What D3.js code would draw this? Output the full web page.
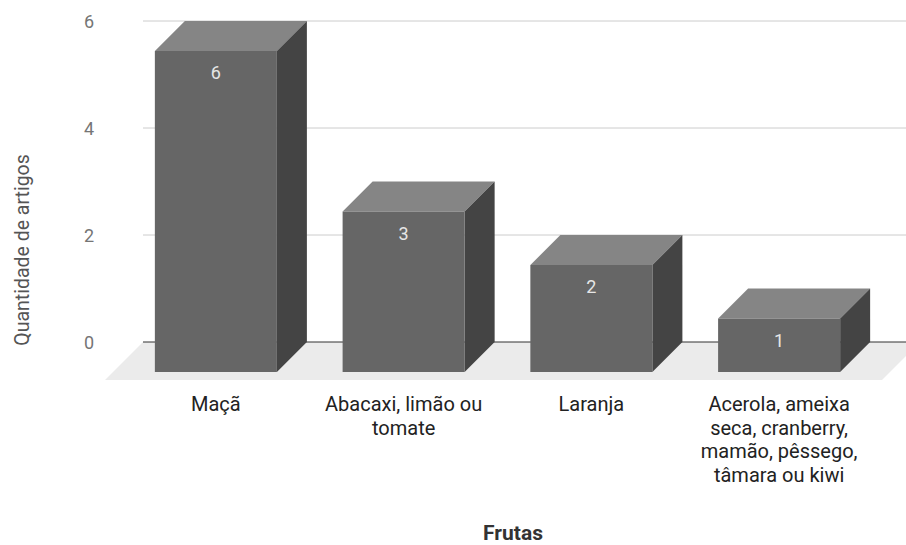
<!DOCTYPE html>
<html>
<head>
<meta charset="utf-8">
<script src="https://cdn.jsdelivr.net/npm/d3@7"></script>
<style>
  html, body { margin: 0; padding: 0; background: #fff; }
  svg { display: block; font-family: Roboto, "Noto Sans", sans-serif; }
</style>
</head>
<body>
<svg id="chart" width="906" height="545"></svg>
<script>
// Number of articles per fruit group
const categories = [
  "Maçã",
  "Abacaxi, limão ou tomate",
  "Laranja",
  "Acerola, ameixa seca, cranberry, mamão, pêssego, tâmara ou kiwi"
];
const values = [6, 3, 2, 1];
const yTicks = [0, 2, 4, 6];
const xTitle = "Frutas";
const yTitle = "Quantidade de artigos";

const svg = d3.select("#chart");
const W = 906;

// Back plane scales; the front faces are shifted by the depth offset
const depth = 30;       // bar depth (px, 45°)
const floorDepth = 38;  // floor depth
const y = d3.scaleLinear().domain([0, 6]).range([342, 21]);
const x = d3.scaleBand().domain(categories).range([152, 903])
  .paddingInner(0.35).paddingOuter(0.175);

const plotLeft = 143, plotRight = 920;

// Gridlines
svg.append("g").selectAll("line")
  .data(yTicks.filter(d => d !== 0))
  .join("line")
  .attr("x1", plotLeft).attr("x2", W)
  .attr("y1", d => y(d)).attr("y2", d => y(d))
  .attr("stroke", "#cccccc").attr("stroke-width", 1);

// Floor
const y0 = y(0);
svg.append("path")
  .attr("d", `M${plotLeft},${y0}L${plotRight},${y0}L${plotRight - floorDepth},${y0 + floorDepth}L${plotLeft - floorDepth},${y0 + floorDepth}Z`)
  .attr("fill", "#ebebeb");

// Baseline
svg.append("line")
  .attr("x1", plotLeft).attr("x2", W)
  .attr("y1", y0).attr("y2", y0)
  .attr("stroke", "#333333").attr("stroke-width", 1.2);

// Y tick labels
svg.append("g").selectAll("text")
  .data(yTicks)
  .join("text")
  .attr("x", 94)
  .attr("y", d => y(d) + 7)
  .attr("text-anchor", "end")
  .attr("font-size", 18)
  .attr("fill", "#757575")
  .text(d => d);

// 3D bars
const bars = svg.append("g").selectAll("g")
  .data(categories.map((c, i) => ({ c, v: values[i] })))
  .join("g");

bars.each(function(d) {
  const g = d3.select(this);
  const bx = x(d.c), bw = x.bandwidth();
  const top = y(d.v), bot = y(0);
  const fx = bx - depth, fTop = top + depth, fBot = bot + depth;
  // top face
  g.append("path")
    .attr("d", `M${fx},${fTop}L${bx},${top}L${bx + bw},${top}L${fx + bw},${fTop}Z`)
    .attr("fill", "#858585");
  // side face
  g.append("path")
    .attr("d", `M${fx + bw},${fTop}L${bx + bw},${top}L${bx + bw},${bot}L${fx + bw},${fBot}Z`)
    .attr("fill", "#444444");
  // front face
  g.append("rect")
    .attr("x", fx).attr("y", fTop)
    .attr("width", bw).attr("height", fBot - fTop)
    .attr("fill", "#666666");
  // value label
  g.append("text")
    .attr("x", fx + bw / 2)
    .attr("y", fTop + 28)
    .attr("text-anchor", "middle")
    .attr("font-size", 18)
    .attr("fill", "#e6e6e6")
    .text(d.v);
});

// Category labels, wrapped to a maximum width
const labelSize = 20;
const labelG = svg.append("g");
categories.forEach(c => {
  const cx = x(c) - depth + x.bandwidth() / 2;
  const t = labelG.append("text")
    .attr("text-anchor", "middle")
    .attr("font-size", labelSize)
    .attr("fill", "#222222");
  const words = c.split(" ");
  let lines = [], line = [];
  const probe = labelG.append("text").attr("font-size", labelSize).style("visibility", "hidden");
  words.forEach(w => {
    const trial = line.concat(w).join(" ");
    probe.text(trial);
    if (probe.node().getComputedTextLength() > 172 && line.length) {
      lines.push(line.join(" "));
      line = [w];
    } else {
      line.push(w);
    }
  });
  lines.push(line.join(" "));
  probe.remove();
  lines.forEach((l, i) => {
    t.append("tspan").attr("x", cx).attr("y", 411 + i * 23.6).text(l);
  });
});

// Axis titles
svg.append("text")
  .attr("x", 513).attr("y", 540)
  .attr("text-anchor", "middle")
  .attr("font-size", 21)
  .attr("font-weight", "bold")
  .attr("fill", "#333333")
  .text(xTitle);

svg.append("text")
  .attr("transform", "translate(29,250) rotate(-90)")
  .attr("text-anchor", "middle")
  .attr("font-size", 19.5)
  .attr("fill", "#555555")
  .text(yTitle);
</script>
</body>
</html>
